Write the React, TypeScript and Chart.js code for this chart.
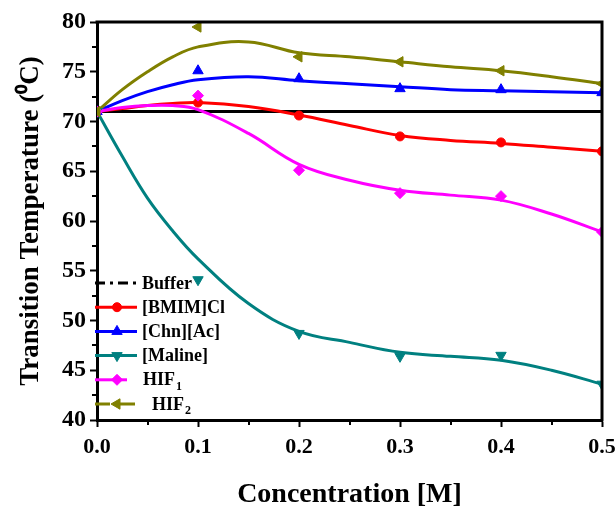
import { useEffect, useRef } from "react";
import { Chart, registerables } from "chart.js";
import { drawPoint } from "chart.js/helpers";

Chart.register(...registerables);

// ---- data ----
const concentration = [0, 0.1, 0.2, 0.3, 0.4, 0.5];
const fitConcentration = [0, 0.025, 0.05, 0.075, 0.1, 0.15, 0.2, 0.25, 0.3, 0.35, 0.4, 0.45, 0.5];

const bufferValues = [71.0, 71.0, 71.0, 71.0, 71.0, 71.0];

const bmimPoints = [71.0, 71.9, 70.6, 68.5, 67.9, 67.0];
const bmimFit = [71.0, 71.3, 71.6, 71.8, 71.9, 71.5, 70.65, 69.6, 68.6, 68.1, 67.8, 67.4, 67.0];

const chnPoints = [71.0, 75.1, 74.3, 73.3, 73.2, 72.9];
const chnFit = [71.0, 72.1, 73.0, 73.7, 74.2, 74.5, 74.1, 73.8, 73.5, 73.2, 73.1, 73.0, 72.9];

const malinePoints = [71.0, 54.1, 48.7, 46.4, 46.5, 43.6];
const malineFit = [71.0, 66.5, 62.3, 59.0, 56.2, 51.7, 48.9, 47.8, 46.8, 46.4, 46.0, 45.0, 43.6];

const hif1Points = [71.0, 72.6, 65.1, 62.8, 62.5, 58.9];
const hif1Fit = [71.0, 71.4, 71.6, 71.6, 71.2, 68.8, 65.7, 64.1, 63.1, 62.6, 62.1, 60.7, 58.9];

const hif2Points = [71.0, 79.5, 76.5, 76.0, 75.1, 73.8];
const hif2Fit = [71.0, 73.2, 75.0, 76.5, 77.5, 78.0, 76.9, 76.5, 76.0, 75.5, 75.1, 74.5, 73.8];

const xMinorTicks = [0.05, 0.15, 0.25, 0.35, 0.45];
const yMinorTicks = [42.5, 47.5, 52.5, 57.5, 62.5, 67.5, 72.5, 77.5];

const legendLabels = ["Buffer", "[BMIM]Cl", "[Chn][Ac]", "[Maline]", "HIF", "HIF"];
const legendSubscripts = ["", "", "", "", "1", "2"];

const FONT = "'Liberation Serif', 'Times New Roman', serif";

type Series = {
  label: string;
  color: string;
  pointStyle: string;
  rotation: number;
  radius: number;
  points: number[];
  fit: number[];
};

const series: Series[] = [
  { label: "HIF2", color: "#808000", pointStyle: "triangle", rotation: -90, radius: 6, points: hif2Points, fit: hif2Fit },
  { label: "HIF1", color: "#ff00ff", pointStyle: "rectRot", rotation: 0, radius: 5.5, points: hif1Points, fit: hif1Fit },
  { label: "[Maline]", color: "#008080", pointStyle: "triangle", rotation: 180, radius: 6, points: malinePoints, fit: malineFit },
  { label: "[Chn][Ac]", color: "#0000ff", pointStyle: "triangle", rotation: 0, radius: 6, points: chnPoints, fit: chnFit },
  { label: "[BMIM]Cl", color: "#ff0000", pointStyle: "circle", rotation: 0, radius: 4.5, points: bmimPoints, fit: bmimFit },
];

function toXY(xs: number[], ys: number[]) {
  return xs.map((x, i) => ({ x, y: ys[i] }));
}

const markerDatasets = series.map((s) => ({
  label: s.label + " points",
  data: toXY(concentration, s.points),
  showLine: false,
  pointStyle: s.pointStyle,
  rotation: s.rotation,
  pointRadius: s.radius,
  pointBackgroundColor: s.color,
  pointBorderColor: s.color,
  pointBorderWidth: 1,
  borderColor: s.color,
  backgroundColor: s.color,
  clip: { left: 0, right: 0, top: false, bottom: false },
}));

const fitDatasets = series.map((s) => ({
  label: s.label,
  data: toXY(fitConcentration, s.fit),
  showLine: true,
  tension: 0.4,
  borderWidth: 3,
  borderColor: s.color,
  pointRadius: 0,
  fill: false,
}));

const bufferDataset = {
  label: "Buffer",
  data: toXY(concentration, bufferValues),
  showLine: true,
  tension: 0,
  borderWidth: 3,
  borderColor: "#000000",
  pointRadius: 0,
  fill: false,
};

// legend order (top to bottom): Buffer, BMIM, Chn, Maline, HIF1, HIF2
const legendStyle = [
  { color: "#000000", pointStyle: "", rotation: 0, radius: 0, dash: [10, 5, 3, 5], lineEnd: 140, textX: 142 },
  { color: "#ff0000", pointStyle: "circle", rotation: 0, radius: 4.5, dash: [], lineEnd: 137, textX: 142 },
  { color: "#0000ff", pointStyle: "triangle", rotation: 0, radius: 6, dash: [], lineEnd: 137, textX: 142 },
  { color: "#008080", pointStyle: "triangle", rotation: 180, radius: 6, dash: [], lineEnd: 137, textX: 142 },
  { color: "#ff00ff", pointStyle: "rectRot", rotation: 0, radius: 5.5, dash: [], lineEnd: 127, textX: 143 },
  { color: "#808000", pointStyle: "triangle", rotation: -90, radius: 6, dash: [15, 10], lineEnd: 137, textX: 152 },
];

const framePlugin = {
  id: "frameAndLegend",
  afterDraw(chart: any) {
    const { ctx, chartArea } = chart;
    const { left, right, top, bottom } = chartArea;
    const xs = chart.scales.x;
    const ys = chart.scales.y;
    ctx.save();
    ctx.strokeStyle = "#000";
    ctx.lineWidth = 3;
    ctx.beginPath();
    ctx.moveTo(left - 1.5, top);
    ctx.lineTo(right, top);
    ctx.lineTo(right, bottom + 1.5);
    ctx.stroke();

    ctx.lineWidth = 2;
    ctx.beginPath();
    for (const v of xMinorTicks) {
      const px = Math.round(xs.getPixelForValue(v));
      ctx.moveTo(px, bottom);
      ctx.lineTo(px, bottom + 5);
    }
    for (const v of yMinorTicks) {
      const py = Math.round(ys.getPixelForValue(v));
      ctx.moveTo(left, py);
      ctx.lineTo(left - 5, py);
    }
    ctx.stroke();

    // legend
    const lineStart = 95;
    const markerX = 117;
    for (let i = 0; i < legendLabels.length; i++) {
      const st = legendStyle[i];
      const rowY = 283 + i * 24.2;
      ctx.strokeStyle = st.color;
      ctx.fillStyle = st.color;
      ctx.lineWidth = 3;
      ctx.setLineDash(st.dash);
      ctx.beginPath();
      ctx.moveTo(lineStart, rowY);
      ctx.lineTo(st.lineEnd, rowY);
      ctx.stroke();
      ctx.setLineDash([]);
      if (st.pointStyle) {
        ctx.lineWidth = 1;
        drawPoint(ctx, { pointStyle: st.pointStyle as any, rotation: st.rotation, radius: st.radius, borderWidth: 1 }, markerX, rowY);
      }
      ctx.fillStyle = "#000";
      ctx.textBaseline = "middle";
      ctx.textAlign = "left";
      ctx.font = `bold 18px ${FONT}`;
      ctx.fillText(legendLabels[i], st.textX, rowY + 1);
      if (legendSubscripts[i]) {
        const w = ctx.measureText(legendLabels[i]).width;
        ctx.font = `bold 12px ${FONT}`;
        ctx.fillText(legendSubscripts[i], st.textX + w + 1, rowY + 7);
      }
    }
    ctx.restore();
  },
};

export default function App() {
  const ref = useRef<HTMLCanvasElement>(null);
  useEffect(() => {
    if (!ref.current) return;
    const chart = new Chart(ref.current, {
      type: "line",
      data: {
        datasets: [...markerDatasets, ...fitDatasets, bufferDataset] as any,
      },
      options: {
        animation: false,
        responsive: false,
        devicePixelRatio: 1,
        layout: { padding: { left: 0, right: 14, top: 22, bottom: 0 } },
        plugins: {
          legend: { display: false },
          tooltip: { enabled: false },
        },
        scales: {
          x: {
            type: "linear",
            min: 0,
            max: 0.5,
            afterFit: (scale: any) => {
              scale.height = 92;
              scale.paddingLeft = 0;
              scale.paddingRight = 0;
            },
            ticks: {
              stepSize: 0.1,
              padding: 7,
              color: "#000",
              maxRotation: 0,
              font: { family: FONT, size: 22, weight: "bold" },
              callback: (v: any) => Number(v).toFixed(1),
            },
            grid: { display: true, drawOnChartArea: false, drawTicks: true, tickLength: 7, tickWidth: 2, color: "#000" },
            border: { display: true, width: 3, color: "#000" },
            title: {
              display: true,
              text: "Concentration [M]",
              color: "#000",
              font: { family: FONT, size: 28, weight: "bold" },
              padding: { top: 0, bottom: 0 },
            },
          },
          y: {
            type: "linear",
            min: 40,
            max: 80,
            afterFit: (scale: any) => {
              scale.width = 97;
              scale.paddingTop = 0;
              scale.paddingBottom = 0;
            },
            ticks: {
              stepSize: 5,
              padding: 4,
              color: "#000",
              font: { family: FONT, size: 24, weight: "bold" },
            },
            grid: { display: true, drawOnChartArea: false, drawTicks: true, tickLength: 7, tickWidth: 2, color: "#000" },
            border: { display: true, width: 3, color: "#000" },
            title: {
              display: true,
              text: "Transition Temperature (\u2070C)",
              color: "#000",
              font: { family: FONT, size: 27, weight: "bold" },
              padding: { top: 15, bottom: 0 },
            },
          },
        },
      },
      plugins: [framePlugin],
    });
    return () => chart.destroy();
  }, []);
  return (
    <div style={{ position: "fixed", left: 0, top: 0, width: 616, height: 512, background: "#fff" }}>
      <canvas ref={ref} width={616} height={512} style={{ display: "block", width: 616, height: 512 }} />
    </div>
  );
}
